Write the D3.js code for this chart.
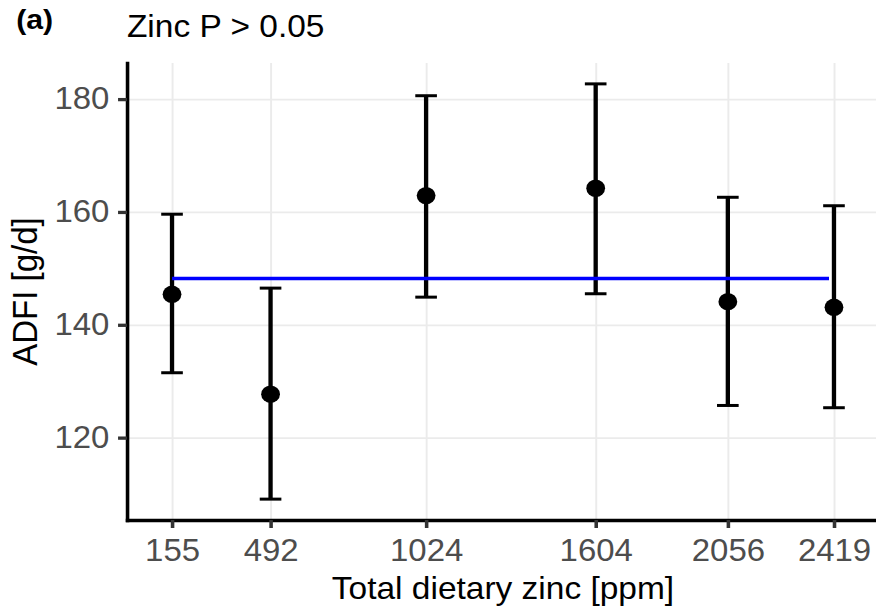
<!DOCTYPE html>
<html>
<head>
<meta charset="utf-8">
<script src="https://cdn.jsdelivr.net/npm/d3@7"></script>
<style>
  html, body { margin: 0; padding: 0; background: #fff; }
  svg { display: block; font-family: "Liberation Sans", Arial, sans-serif; }
</style>
</head>
<body>
<div id="chart"></div>
<script>
// values
const zinc = [155, 492, 1024, 1604, 2056, 2419];
const adfi = [145.4, 127.7, 162.9, 164.2, 144.1, 143.1];
const adfiUpper = [159.6, 146.5, 180.6, 182.7, 162.6, 161.1];
const adfiLower = [131.5, 109.1, 144.9, 145.5, 125.7, 125.3];
const fitX = [155, 2402];
const fitY = [148.2, 148.2];
const yTicks = [120, 140, 160, 180];
const xDomain = [1, 2573];
const yDomain = [105.4, 186.4];
const capWidth = 74; // errorbar width, data units

const W = 876, H = 612;
const S = 1.08; // the source figure is slightly stretched horizontally
const panel = {left: 127 / S, right: 879 / S, top: 63, bottom: 520};

const svg = d3.select("#chart")
    .append("svg")
    .attr("width", W)
    .attr("height", H)
    .attr("viewBox", `0 0 ${W / S} ${H}`)
    .attr("preserveAspectRatio", "none");

const x = d3.scaleLinear().domain(xDomain).range([panel.left, panel.right]);
const y = d3.scaleLinear().domain(yDomain).range([panel.bottom, panel.top]);

// grid
const gridX = svg.append("g")
    .attr("transform", `translate(0, ${panel.bottom})`)
    .call(d3.axisBottom(x).tickValues(zinc).tickSize(-(panel.bottom - panel.top)).tickFormat(""));
const gridY = svg.append("g")
    .attr("transform", `translate(${panel.left}, 0)`)
    .call(d3.axisLeft(y).tickValues(yTicks).tickSize(-(W / S - panel.left)).tickFormat(""));
for (const g of [gridX, gridY]) {
    g.select(".domain").remove();
    g.selectAll("line").attr("stroke", "#ebebeb").attr("stroke-width", 1.8);
}

// error bars
const bars = svg.append("g");
bars.selectAll("line.stem")
    .data(zinc)
    .enter()
    .append("line")
    .attr("x1", d => x(d))
    .attr("x2", d => x(d))
    .attr("y1", (d, i) => y(adfiUpper[i]))
    .attr("y2", (d, i) => y(adfiLower[i]))
    .attr("stroke", "#000")
    .attr("stroke-width", 4);

for (const ends of [adfiUpper, adfiLower]) {
    bars.selectAll(null)
        .data(zinc)
        .enter()
        .append("line")
        .attr("x1", d => x(d - capWidth / 2))
        .attr("x2", d => x(d + capWidth / 2))
        .attr("y1", (d, i) => y(ends[i]))
        .attr("y2", (d, i) => y(ends[i]))
        .attr("stroke", "#000")
        .attr("stroke-width", 3);
}

// fitted line
svg.append("path")
    .datum(fitX.map((d, i) => [d, fitY[i]]))
    .attr("d", d3.line().x(d => x(d[0])).y(d => y(d[1])))
    .attr("fill", "none")
    .attr("stroke", "#0000ff")
    .attr("stroke-width", 3.3);

// means
svg.selectAll("circle.mean")
    .data(zinc)
    .enter()
    .append("circle")
    .attr("cx", d => x(d))
    .attr("cy", (d, i) => y(adfi[i]))
    .attr("r", 8.7)
    .attr("fill", "#000");

// axes
const xAxis = svg.append("g")
    .attr("transform", `translate(0, ${panel.bottom})`)
    .call(d3.axisBottom(x).tickValues(zinc).tickFormat(d3.format("d")).tickSize(8).tickSizeOuter(0).tickPadding(11));
const yAxis = svg.append("g")
    .attr("transform", `translate(${panel.left}, 0)`)
    .call(d3.axisLeft(y).tickValues(yTicks).tickSize(8.3).tickSizeOuter(0).tickPadding(8));

for (const g of [xAxis, yAxis]) {
    g.select(".domain")
        .attr("stroke", "#000")
        .attr("stroke-width", 3.3)
        .attr("stroke-linecap", "square");
    g.selectAll(".tick line").attr("stroke", "#333").attr("stroke-width", 3.3);
    g.selectAll(".tick text")
        .attr("fill", "#4d4d4d")
        .style("font-size", "30.5px")
        .style("font-family", "\"Liberation Sans\", Arial, sans-serif");
}

// titles
svg.append("text")
    .attr("x", 15)
    .attr("y", 29.5)
    .style("font-size", "28px")
    .style("font-weight", "bold")
    .text("(a)");

svg.append("text")
    .attr("x", 117.5)
    .attr("y", 36.7)
    .style("font-size", "31px")
    .text("Zinc P > 0.05");

svg.append("text")
    .attr("x", (panel.left + panel.right) / 2)
    .attr("y", 599)
    .attr("text-anchor", "middle")
    .style("font-size", "31px")
    .text("Total dietary zinc [ppm]");

svg.append("text")
    .attr("transform", `translate(${37 / S}, ${(panel.top + panel.bottom) / 2}) rotate(-90)`)
    .attr("text-anchor", "middle")
    .style("font-size", "33px")
    .text("ADFI [g/d]");
</script>
</body>
</html>
